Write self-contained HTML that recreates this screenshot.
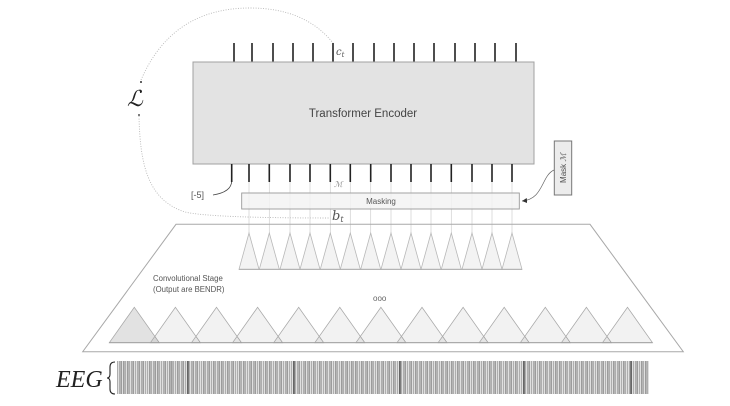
<!DOCTYPE html>
<html><head><meta charset="utf-8"><style>
html,body{margin:0;padding:0;background:#fff;}
svg{display:block;}
text{font-family:"Liberation Sans","DejaVu Sans",sans-serif;}
.serif{font-family:"DejaVu Serif","Liberation Serif",serif;font-style:italic;}
</style></head><body>
<svg width="730" height="406" viewBox="0 0 730 406" xmlns="http://www.w3.org/2000/svg">
<defs>
<pattern id="eeg" x="117" y="0" width="2" height="10" patternUnits="userSpaceOnUse">
<rect x="0" y="0" width="1" height="10" fill="#aeaeae"/>
<rect x="1" y="0" width="1" height="10" fill="#e0e0e0"/>
</pattern>
<marker id="ah" markerWidth="6" markerHeight="6" refX="5" refY="3" orient="auto" markerUnits="userSpaceOnUse">
<path d="M0,0.5 L5,3 L0,5.5 z" fill="#333"/>
</marker>
</defs>

<!-- dotted loss curves -->
<path d="M141,80 Q172,8 250,8 Q305,8 333,43" fill="none" stroke="#b8b8b8" stroke-width="0.9" stroke-dasharray="1,1.5"/>
<path d="M139,116 C140,165 148,200 185,212 Q210,218 330,218" fill="none" stroke="#b8b8b8" stroke-width="0.9" stroke-dasharray="1,1.5"/>
<circle cx="141" cy="82" r="1" fill="#333"/>
<circle cx="139" cy="115" r="1" fill="#555"/>
<text x="127" y="106" class="serif" font-size="22" fill="#222">ℒ</text>

<!-- top ticks -->
<g stroke="#222" stroke-width="1.6">
<line x1="234" y1="43" x2="234" y2="62"/><line x1="252" y1="43" x2="252" y2="62"/>
<line x1="273" y1="43" x2="273" y2="62"/><line x1="293" y1="43" x2="293" y2="62"/>
<line x1="313" y1="43" x2="313" y2="62"/><line x1="333" y1="43" x2="333" y2="62"/>
<line x1="353" y1="43" x2="353" y2="62"/><line x1="374" y1="43" x2="374" y2="62"/>
<line x1="394" y1="43" x2="394" y2="62"/><line x1="414" y1="43" x2="414" y2="62"/>
<line x1="434" y1="43" x2="434" y2="62"/><line x1="455" y1="43" x2="455" y2="62"/>
<line x1="475" y1="43" x2="475" y2="62"/><line x1="495" y1="43" x2="495" y2="62"/>
<line x1="516" y1="43" x2="516" y2="62"/>
</g>
<text x="336" y="55" class="serif" font-size="10" fill="#555">c<tspan font-size="7" dy="2">t</tspan></text>

<!-- thin lines from bottom ticks to top triangles -->
<g stroke="#d0d0d0" stroke-width="0.7">
<line x1="249" y1="180" x2="249" y2="234"/><line x1="269.3" y1="180" x2="269.3" y2="234"/>
<line x1="290" y1="180" x2="290" y2="234"/><line x1="310" y1="180" x2="310" y2="234"/>
<line x1="330.3" y1="180" x2="330.3" y2="234"/><line x1="350.3" y1="180" x2="350.3" y2="234"/>
<line x1="370.7" y1="180" x2="370.7" y2="234"/><line x1="391" y1="180" x2="391" y2="234"/>
<line x1="411" y1="180" x2="411" y2="234"/><line x1="431" y1="180" x2="431" y2="234"/>
<line x1="451.3" y1="180" x2="451.3" y2="234"/><line x1="472" y1="180" x2="472" y2="234"/>
<line x1="492" y1="180" x2="492" y2="234"/><line x1="512" y1="180" x2="512" y2="234"/>
</g>

<!-- transformer box -->
<rect x="193" y="62" width="341" height="102" fill="#e3e3e3" stroke="#a0a0a0" stroke-width="1"/>
<text x="363" y="117" font-size="11.5" fill="#444" text-anchor="middle">Transformer Encoder</text>

<!-- bottom ticks -->
<g stroke="#222" stroke-width="1.6">
<path d="M231.7,164 L231.7,181 Q231.5,192 213,195" fill="none" stroke="#444" stroke-width="0.8"/>
<line x1="231.7" y1="164" x2="231.7" y2="182"/>
<line x1="249" y1="164" x2="249" y2="182"/><line x1="269.3" y1="164" x2="269.3" y2="182"/>
<line x1="290" y1="164" x2="290" y2="182"/><line x1="310" y1="164" x2="310" y2="182"/>
<line x1="330.3" y1="164" x2="330.3" y2="182"/><line x1="350.3" y1="164" x2="350.3" y2="182"/>
<line x1="370.7" y1="164" x2="370.7" y2="182"/><line x1="391" y1="164" x2="391" y2="182"/>
<line x1="411" y1="164" x2="411" y2="182"/><line x1="431" y1="164" x2="431" y2="182"/>
<line x1="451.3" y1="164" x2="451.3" y2="182"/><line x1="472" y1="164" x2="472" y2="182"/>
<line x1="492" y1="164" x2="492" y2="182"/><line x1="512" y1="164" x2="512" y2="182"/>
</g>
<text x="191" y="198" font-size="9" fill="#555">[-5]</text>
<text x="334" y="187" class="serif" font-size="8" fill="#888">ℳ</text>

<!-- masking box -->
<rect x="241.7" y="193" width="277.6" height="16" fill="#f3f3f3" fill-opacity="0.85" stroke="#999" stroke-width="0.9"/>
<text x="381" y="204" font-size="8" fill="#555" text-anchor="middle">Masking</text>
<text x="332" y="220" class="serif" font-size="13" fill="#555">b<tspan font-size="8" dy="2">t</tspan></text>

<!-- mask box -->
<rect x="554.3" y="141" width="17.4" height="54" fill="#ececec" stroke="#777" stroke-width="1"/>
<text transform="translate(566,168) rotate(-90)" font-size="8" fill="#555" text-anchor="middle">Mask  <tspan class="serif">ℳ</tspan></text>
<path d="M554,170 C541,176 544,199 522,201" fill="none" stroke="#666" stroke-width="0.7" marker-end="url(#ah)"/>

<!-- convolutional trapezoid -->
<path d="M176,224.3 L590,224.3 L683.3,351.7 L82.7,351.7 Z" fill="none" stroke="#a8a8a8" stroke-width="1"/>

<!-- top triangles -->
<g fill="#f3f3f3" stroke="#b8b8b8" stroke-width="0.8">
<path d="M239,269.3 L249,233 L259,269.3Z"/><path d="M259.3,269.3 L269.3,233 L279.3,269.3Z"/>
<path d="M280,269.3 L290,233 L300,269.3Z"/><path d="M300,269.3 L310,233 L320,269.3Z"/>
<path d="M320.3,269.3 L330.3,233 L340.3,269.3Z"/><path d="M340.3,269.3 L350.3,233 L360.3,269.3Z"/>
<path d="M360.7,269.3 L370.7,233 L380.7,269.3Z"/><path d="M381,269.3 L391,233 L401,269.3Z"/>
<path d="M401,269.3 L411,233 L421,269.3Z"/><path d="M421,269.3 L431,233 L441,269.3Z"/>
<path d="M441.3,269.3 L451.3,233 L461.3,269.3Z"/><path d="M462,269.3 L472,233 L482,269.3Z"/>
<path d="M482,269.3 L492,233 L502,269.3Z"/><path d="M502,269.3 L512,233 L522,269.3Z"/>
</g>
<line x1="239" y1="269.3" x2="522" y2="269.3" stroke="#a8a8a8" stroke-width="0.9"/>

<text x="153" y="281" font-size="7.8" fill="#555">Convolutional Stage</text>
<text x="153" y="292" font-size="7.8" fill="#555">(Output are BENDR)</text>
<text x="373" y="301" font-size="8" fill="#666">ooo</text>

<!-- bottom triangles -->
<g fill="#000" fill-opacity="0.05" stroke="#a8a8a8" stroke-width="0.8">
<path d="M109.3,342.7 L134.3,307.3 L159.3,342.7Z" fill="#e2e2e2" fill-opacity="1"/>
<path d="M150.4,342.7 L175.4,307.3 L200.4,342.7Z"/>
<path d="M191.5,342.7 L216.5,307.3 L241.5,342.7Z"/>
<path d="M232.6,342.7 L257.6,307.3 L282.6,342.7Z"/>
<path d="M273.7,342.7 L298.7,307.3 L323.7,342.7Z"/>
<path d="M314.8,342.7 L339.8,307.3 L364.8,342.7Z"/>
<path d="M355.9,342.7 L380.9,307.3 L405.9,342.7Z"/>
<path d="M397,342.7 L422,307.3 L447,342.7Z"/>
<path d="M438.1,342.7 L463.1,307.3 L488.1,342.7Z"/>
<path d="M479.2,342.7 L504.2,307.3 L529.2,342.7Z"/>
<path d="M520.3,342.7 L545.3,307.3 L570.3,342.7Z"/>
<path d="M561.4,342.7 L586.4,307.3 L611.4,342.7Z"/>
<path d="M602.5,342.7 L627.5,307.3 L652.5,342.7Z"/>
</g>
<line x1="109" y1="342.7" x2="652.5" y2="342.7" stroke="#a0a0a0" stroke-width="0.9"/>

<!-- EEG -->
<text x="56" y="387" style="font-family:'Liberation Serif',serif;font-style:italic;" font-size="24" fill="#222">EEG</text>
<path d="M115,362 Q110,362 110,367 L110,374 Q110,378 107,378 Q110,378 110,382 L110,389 Q110,394 115,394" fill="none" stroke="#222" stroke-width="1.1"/>
<rect x="117" y="361" width="532" height="33" fill="url(#eeg)"/>
<g stroke="#8a8a8a" stroke-width="1">
<line x1="121" y1="361" x2="121" y2="394"/><line x1="124" y1="361" x2="124" y2="394"/><line x1="128" y1="361" x2="128" y2="394"/>
<line x1="133" y1="361" x2="133" y2="394"/><line x1="139" y1="361" x2="139" y2="394"/><line x1="143" y1="361" x2="143" y2="394"/>
<line x1="150" y1="361" x2="150" y2="394"/><line x1="155" y1="361" x2="155" y2="394"/><line x1="158" y1="361" x2="158" y2="394"/>
<line x1="165" y1="361" x2="165" y2="394"/><line x1="170" y1="361" x2="170" y2="394"/><line x1="172" y1="361" x2="172" y2="394"/>
<line x1="178" y1="361" x2="178" y2="394"/><line x1="183" y1="361" x2="183" y2="394"/><line x1="193" y1="361" x2="193" y2="394"/>
<line x1="197" y1="361" x2="197" y2="394"/><line x1="204" y1="361" x2="204" y2="394"/><line x1="209" y1="361" x2="209" y2="394"/>
<line x1="214" y1="361" x2="214" y2="394"/><line x1="219" y1="361" x2="219" y2="394"/><line x1="222" y1="361" x2="222" y2="394"/>
<line x1="228" y1="361" x2="228" y2="394"/><line x1="233" y1="361" x2="233" y2="394"/><line x1="240" y1="361" x2="240" y2="394"/>
<line x1="244" y1="361" x2="244" y2="394"/><line x1="251" y1="361" x2="251" y2="394"/><line x1="255" y1="361" x2="255" y2="394"/>
<line x1="260" y1="361" x2="260" y2="394"/><line x1="266" y1="361" x2="266" y2="394"/><line x1="270" y1="361" x2="270" y2="394"/>
<line x1="276" y1="361" x2="276" y2="394"/><line x1="281" y1="361" x2="281" y2="394"/><line x1="287" y1="361" x2="287" y2="394"/>
<line x1="299" y1="361" x2="299" y2="394"/><line x1="305" y1="361" x2="305" y2="394"/><line x1="309" y1="361" x2="309" y2="394"/>
<line x1="314" y1="361" x2="314" y2="394"/><line x1="320" y1="361" x2="320" y2="394"/><line x1="326" y1="361" x2="326" y2="394"/>
<line x1="331" y1="361" x2="331" y2="394"/><line x1="336" y1="361" x2="336" y2="394"/><line x1="342" y1="361" x2="342" y2="394"/>
<line x1="347" y1="361" x2="347" y2="394"/><line x1="352" y1="361" x2="352" y2="394"/><line x1="356" y1="361" x2="356" y2="394"/>
<line x1="362" y1="361" x2="362" y2="394"/><line x1="367" y1="361" x2="367" y2="394"/><line x1="372" y1="361" x2="372" y2="394"/>
<line x1="378" y1="361" x2="378" y2="394"/><line x1="383" y1="361" x2="383" y2="394"/><line x1="389" y1="361" x2="389" y2="394"/>
<line x1="394" y1="361" x2="394" y2="394"/><line x1="405" y1="361" x2="405" y2="394"/><line x1="411" y1="361" x2="411" y2="394"/>
<line x1="416" y1="361" x2="416" y2="394"/><line x1="421" y1="361" x2="421" y2="394"/><line x1="427" y1="361" x2="427" y2="394"/>
<line x1="431" y1="361" x2="431" y2="394"/><line x1="436" y1="361" x2="436" y2="394"/><line x1="442" y1="361" x2="442" y2="394"/>
<line x1="447" y1="361" x2="447" y2="394"/><line x1="452" y1="361" x2="452" y2="394"/><line x1="458" y1="361" x2="458" y2="394"/>
<line x1="463" y1="361" x2="463" y2="394"/><line x1="469" y1="361" x2="469" y2="394"/><line x1="474" y1="361" x2="474" y2="394"/>
<line x1="479" y1="361" x2="479" y2="394"/><line x1="484" y1="361" x2="484" y2="394"/><line x1="490" y1="361" x2="490" y2="394"/>
<line x1="495" y1="361" x2="495" y2="394"/><line x1="500" y1="361" x2="500" y2="394"/><line x1="506" y1="361" x2="506" y2="394"/>
<line x1="511" y1="361" x2="511" y2="394"/><line x1="516" y1="361" x2="516" y2="394"/><line x1="529" y1="361" x2="529" y2="394"/>
<line x1="535" y1="361" x2="535" y2="394"/><line x1="540" y1="361" x2="540" y2="394"/><line x1="546" y1="361" x2="546" y2="394"/>
<line x1="551" y1="361" x2="551" y2="394"/><line x1="556" y1="361" x2="556" y2="394"/><line x1="560" y1="361" x2="560" y2="394"/>
<line x1="566" y1="361" x2="566" y2="394"/><line x1="571" y1="361" x2="571" y2="394"/><line x1="576" y1="361" x2="576" y2="394"/>
<line x1="582" y1="361" x2="582" y2="394"/><line x1="587" y1="361" x2="587" y2="394"/><line x1="592" y1="361" x2="592" y2="394"/>
<line x1="598" y1="361" x2="598" y2="394"/><line x1="603" y1="361" x2="603" y2="394"/><line x1="608" y1="361" x2="608" y2="394"/>
<line x1="614" y1="361" x2="614" y2="394"/><line x1="619" y1="361" x2="619" y2="394"/><line x1="624" y1="361" x2="624" y2="394"/>
<line x1="637" y1="361" x2="637" y2="394"/><line x1="642" y1="361" x2="642" y2="394"/><line x1="646" y1="361" x2="646" y2="394"/>
</g>
<g stroke="#2a2a2a" stroke-width="1.1">
<line x1="188" y1="361" x2="188" y2="394"/><line x1="294" y1="361" x2="294" y2="394"/>
<line x1="400" y1="361" x2="400" y2="394"/><line x1="524" y1="361" x2="524" y2="394"/>
<line x1="631" y1="361" x2="631" y2="394"/>
</g>
</svg>
</body></html>
